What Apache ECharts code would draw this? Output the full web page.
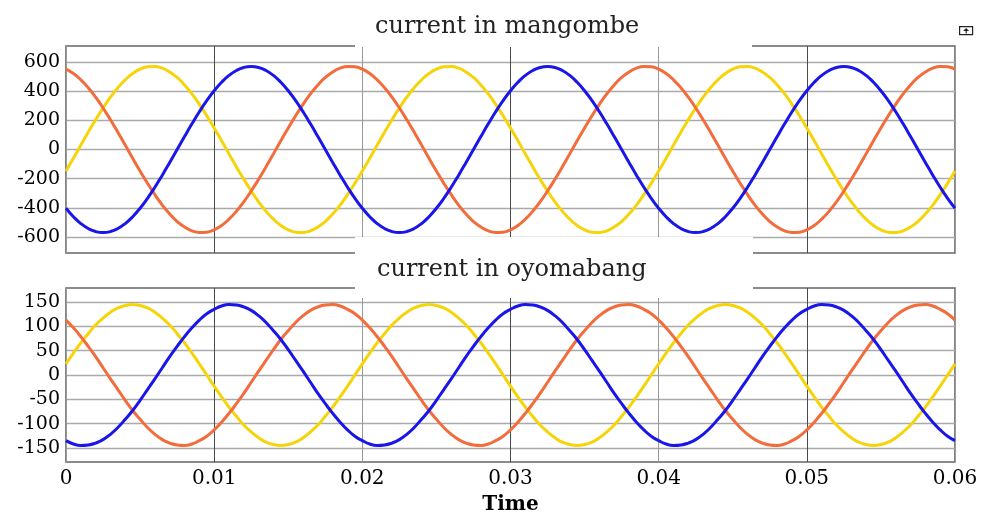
<!DOCTYPE html>
<html>
<head>
<meta charset="utf-8">
<script src="https://cdn.jsdelivr.net/npm/echarts@6/dist/echarts.min.js"></script>
<style>
html,body{margin:0;padding:0;background:#fff;}
#chart{width:987px;height:516px;}
</style>
</head>
<body>
<div id="chart"></div>
<script>
// ---- data ----
const titleTop = 'current in mangombe';
const titleBottom = 'current in oyomabang';
const xName = 'Time';

const xTime = [
  0,0.0005,0.001,0.0015,0.002,0.0025,0.003,0.0035,0.004,0.0045,0.005,0.0055,0.006,0.0065,0.007,0.0075,0.008,0.0085,0.009,0.0095,
  0.01,0.0105,0.011,0.0115,0.012,0.0125,0.013,0.0135,0.014,0.0145,0.015,0.0155,0.016,0.0165,0.017,0.0175,0.018,0.0185,0.019,0.0195,
  0.02,0.0205,0.021,0.0215,0.022,0.0225,0.023,0.0235,0.024,0.0245,0.025,0.0255,0.026,0.0265,0.027,0.0275,0.028,0.0285,0.029,0.0295,
  0.03,0.0305,0.031,0.0315,0.032,0.0325,0.033,0.0335,0.034,0.0345,0.035,0.0355,0.036,0.0365,0.037,0.0375,0.038,0.0385,0.039,0.0395,
  0.04,0.0405,0.041,0.0415,0.042,0.0425,0.043,0.0435,0.044,0.0445,0.045,0.0455,0.046,0.0465,0.047,0.0475,0.048,0.0485,0.049,0.0495,
  0.05,0.0505,0.051,0.0515,0.052,0.0525,0.053,0.0535,0.054,0.0545,0.055,0.0555,0.056,0.0565,0.057,0.0575,0.058,0.0585,0.059,0.0595,
  0.06];

const xTicks = [0,0.01,0.02,0.03,0.04,0.05,0.06];
const yTicksTop = [-600,-400,-200,0,200,400,600];
const yTicksBottom = [-150,-100,-50,0,50,100,150];

// top panel: current in mangombe
const topBlue = [
  -403,-461,-508,-542,-563,-570,-563,-542,-508,-461,-403,-335,-259,-176,-89,0,89,176,259,335,403,461,508,542,563,570,563,542,508,461,403,335,259,176,89,0,-89,-176,-259,-335,
  -403,-461,-508,-542,-563,-570,-563,-542,-508,-461,-403,-335,-259,-176,-89,0,89,176,259,335,403,461,508,542,563,570,563,542,508,461,403,335,259,176,89,0,-89,-176,-259,-335,
  -403,-461,-508,-542,-563,-570,-563,-542,-508,-461,-403,-335,-259,-176,-89,0,89,176,259,335,403,461,508,542,563,570,563,542,508,461,403,335,259,176,89,0,-89,-176,-259,-335,
  -403];
const topOrange = [
  551,521,478,424,359,285,204,119,30,-60,-148,-232,-310,-381,-443,-494,-532,-558,-569,-567,-551,-521,-478,-424,-359,-285,-204,-119,-30,60,148,232,310,381,443,494,532,558,569,567,
  551,521,478,424,359,285,204,119,30,-60,-148,-232,-310,-381,-443,-494,-532,-558,-569,-567,-551,-521,-478,-424,-359,-285,-204,-119,-30,60,148,232,310,381,443,494,532,558,569,567,
  551,521,478,424,359,285,204,119,30,-60,-148,-232,-310,-381,-443,-494,-532,-558,-569,-567,-551,-521,-478,-424,-359,-285,-204,-119,-30,60,148,232,310,381,443,494,532,558,569,567,
  551];
const topYellow = [
  -148,-60,30,119,204,285,359,424,478,521,551,567,569,558,532,494,443,381,310,232,148,60,-30,-119,-204,-285,-359,-424,-478,-521,-551,-567,-569,-558,-532,-494,-443,-381,-310,-232,
  -148,-60,30,119,204,285,359,424,478,521,551,567,569,558,532,494,443,381,310,232,148,60,-30,-119,-204,-285,-359,-424,-478,-521,-551,-567,-569,-558,-532,-494,-443,-381,-310,-232,
  -148,-60,30,119,204,285,359,424,478,521,551,567,569,558,532,494,443,381,310,232,148,60,-30,-119,-204,-285,-359,-424,-478,-521,-551,-567,-569,-558,-532,-494,-443,-381,-310,-232,
  -148];

// bottom panel: current in oyomabang
const botBlue = [
  -135,-142,-145,-144,-140,-133,-122,-108,-91,-73,-52,-30,-8,15,38,59,79,97,113,126,135,142,145,144,140,133,122,108,91,73,52,30,8,-15,-38,-59,-79,-97,-113,-126,
  -135,-142,-145,-144,-140,-133,-122,-108,-91,-73,-52,-30,-8,15,38,59,79,97,113,126,135,142,145,144,140,133,122,108,91,73,52,30,8,-15,-38,-59,-79,-97,-113,-126,
  -135,-142,-145,-144,-140,-133,-122,-108,-91,-73,-52,-30,-8,15,38,59,79,97,113,126,135,142,145,144,140,133,122,108,91,73,52,30,8,-15,-38,-59,-79,-97,-113,-126,
  -135];
const botOrange = [
  113,97,79,59,38,15,-8,-30,-52,-73,-91,-108,-122,-133,-140,-144,-145,-142,-135,-126,-113,-97,-79,-59,-38,-15,8,30,52,73,91,108,122,133,140,144,145,142,135,126,
  113,97,79,59,38,15,-8,-30,-52,-73,-91,-108,-122,-133,-140,-144,-145,-142,-135,-126,-113,-97,-79,-59,-38,-15,8,30,52,73,91,108,122,133,140,144,145,142,135,126,
  113,97,79,59,38,15,-8,-30,-52,-73,-91,-108,-122,-133,-140,-144,-145,-142,-135,-126,-113,-97,-79,-59,-38,-15,8,30,52,73,91,108,122,133,140,144,145,142,135,126,
  113];
const botYellow = [
  23,45,66,85,103,117,129,138,143,145,143,138,129,117,103,85,66,45,23,0,-23,-45,-66,-85,-103,-117,-129,-138,-143,-145,-143,-138,-129,-117,-103,-85,-66,-45,-23,0,
  23,45,66,85,103,117,129,138,143,145,143,138,129,117,103,85,66,45,23,0,-23,-45,-66,-85,-103,-117,-129,-138,-143,-145,-143,-138,-129,-117,-103,-85,-66,-45,-23,0,
  23,45,66,85,103,117,129,138,143,145,143,138,129,117,103,85,66,45,23,0,-23,-45,-66,-85,-103,-117,-129,-138,-143,-145,-143,-138,-129,-117,-103,-85,-66,-45,-23,0,
  23];

// ---- styling ----
const FONT = '"DejaVu Serif", "Liberation Serif", serif';
const BLUE = '#1a16ea', ORANGE = '#f26c3c', YELLOW = '#f6d40a';
const HGRID = '#aaaaaa', BORDER = '#666666';

const ctx = document.createElement('canvas').getContext('2d');
ctx.font = '24px ' + FONT;
const wTop = ctx.measureText(titleTop).width;
const wBot = ctx.measureText(titleBottom).width;

const pairs = (ys) => xTime.map((t, i) => [t, ys[i]]);

function xAxisFor(gridIndex, showLabels) {
  return {
    type: 'value', gridIndex, min: 0, max: 0.06, interval: 0.01,
    axisLine: { show: false }, axisTick: { show: false },
    axisLabel: {
      show: showLabels, customValues: xTicks, margin: 7,
      fontFamily: FONT, fontSize: 20, color: '#000',
      formatter: v => String(+v.toFixed(2))
    },
    splitLine: { show: true, lineStyle: { color: ['#999999', '#4a4a4a'], width: 1 } },
    name: showLabels ? xName : '', nameLocation: 'middle', nameGap: 33,
    nameTextStyle: { fontFamily: FONT, fontSize: 20, color: '#000', fontWeight: 'bold' }
  };
}
function yAxisFor(gridIndex, lim, ticks) {
  return {
    type: 'value', gridIndex, min: -lim, max: lim,
    axisLine: { show: false },
    axisTick: { show: false, customValues: ticks },
    axisLabel: { customValues: ticks, margin: 6, fontFamily: FONT, fontSize: 19, color: '#000' },
    splitLine: { show: true, lineStyle: { color: HGRID, width: 1.3 } }
  };
}
function line(name, data, color, xi) {
  return {
    name, type: 'line', xAxisIndex: xi, yAxisIndex: xi, data: pairs(data),
    showSymbol: false, smooth: true, lineStyle: { color, width: 3 }, itemStyle: { color }
  };
}

const chart = echarts.init(document.getElementById('chart'), null, { renderer: 'canvas' });
chart.setOption({
  animation: false,
  backgroundColor: '#fff',
  title: [
    { text: titleTop, left: 355, top: 0, padding: [15, 397 - 20 - wTop, 8, 20], backgroundColor: '#fff',
      textStyle: { fontFamily: FONT, fontSize: 24, fontWeight: 'normal', color: '#222', lineHeight: 24 } },
    { text: titleBottom, left: 355, top: 237, padding: [21, 398 - 22 - wBot, 16, 22], backgroundColor: '#fff',
      textStyle: { fontFamily: FONT, fontSize: 24, fontWeight: 'normal', color: '#222', lineHeight: 24 } }
  ],
  grid: [
    { left: 66, top: 46, width: 889, height: 207, show: true, borderColor: BORDER, borderWidth: 1.6, backgroundColor: 'transparent' },
    { left: 66, top: 288, width: 889, height: 175, show: true, borderColor: BORDER, borderWidth: 1.6, backgroundColor: 'transparent' }
  ],
  xAxis: [xAxisFor(0, false), xAxisFor(1, true)],
  yAxis: [yAxisFor(0, 710, yTicksTop), yAxisFor(1, 179, yTicksBottom)],
  series: [
    line('mangombe A', topYellow, YELLOW, 0),
    line('mangombe B', topOrange, ORANGE, 0),
    line('mangombe C', topBlue, BLUE, 0),
    line('oyomabang A', botYellow, YELLOW, 1),
    line('oyomabang B', botOrange, ORANGE, 1),
    line('oyomabang C', botBlue, BLUE, 1)
  ],
  graphic: [
    { type: 'group', left: 959, top: 26, children: [
      { type: 'rect', shape: { x: 0, y: 0, width: 13, height: 8 }, style: { fill: '#fff', stroke: '#222', lineWidth: 1.2 } },
      { type: 'polygon', shape: { points: [[6.5, 1.5], [3.5, 4.5], [9.5, 4.5]] }, style: { fill: '#222' } },
      { type: 'rect', shape: { x: 6, y: 4, width: 1.2, height: 3 }, style: { fill: '#222' } }
    ] }
  ]
});
</script>
</body>
</html>
